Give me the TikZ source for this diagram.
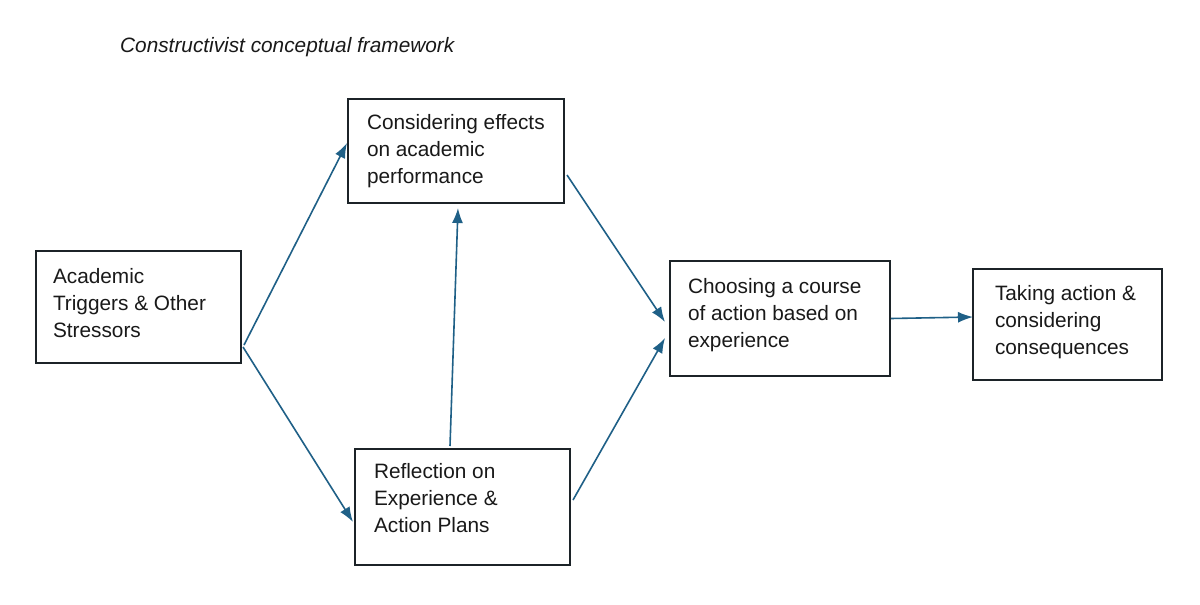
\documentclass[tikz,border=0pt]{standalone}
\usepackage{fontspec}
\setmainfont{Liberation Sans}
\usetikzlibrary{arrows.meta}
\definecolor{arrowblue}{HTML}{1F6087}
\definecolor{boxline}{HTML}{1C2328}
\begin{document}
\begin{tikzpicture}[x=1pt,y=-1pt,
  stagebox/.style={draw=boxline,line width=2.6pt,fill=white,inner sep=0pt,outer sep=0pt},
  stagetext/.style={anchor=base west,inner sep=0pt,outer sep=0pt,align=left,
    font=\fontsize{20.8}{27}\selectfont,text=black!90},
  flow/.style={draw=arrowblue,line width=1.6pt,-{Latex[length=15pt,width=11pt]}}]
\useasboundingbox[fill=white] (0,0) rectangle (1200,605);
\node[anchor=base west,inner sep=0pt,font=\fontsize{20.8}{27}\selectfont\itshape,text=black!90] (title) at (120,52) {Constructivist conceptual framework};
% boxes
\node[stagebox,minimum width=205pt,minimum height=112pt] (a) at (138.5,307) {};
\node[stagebox,minimum width=216pt,minimum height=104pt] (b) at (456,151) {};
\node[stagebox,minimum width=215pt,minimum height=116pt] (c) at (462.5,507) {};
\node[stagebox,minimum width=220pt,minimum height=115pt] (d) at (780,318.5) {};
\node[stagebox,minimum width=189pt,minimum height=111pt] (e) at (1067.5,324.5) {};
% texts (anchored at the baseline of the last line)
\node[stagetext] (at) at (53,337) {Academic\\Triggers \& Other\\Stressors};
\node[stagetext] (bt) at (367,183) {Considering effects\\on academic\\performance};
\node[stagetext] (ct) at (374,532) {Reflection on\\Experience \&\\Action Plans};
\node[stagetext] (dt) at (688,347) {Choosing a course\\of action based on\\experience};
\node[stagetext] (et) at (995,354) {Taking action \&\\considering\\consequences};
% connectors
\draw[flow] ([xshift=3pt,yshift=-38pt]a.east) -- ([xshift=-1pt,yshift=8pt]b.west);
\draw[flow] ([xshift=2pt,yshift=-40pt]a.east) -- ([xshift=-2pt,yshift=-15pt]c.west);
\draw[flow] ([xshift=-12.5pt,yshift=3pt]c.north) -- ([xshift=2pt,yshift=-5pt]b.south);
\draw[flow] ([xshift=3pt,yshift=-24pt]b.east) -- ([xshift=-5pt,yshift=-3.5pt]d.west);
\draw[flow] ([xshift=3pt,yshift=7pt]c.east) -- ([xshift=-5pt,yshift=-19.5pt]d.west);
\draw[flow] ([xshift=1pt]d.east) -- ([yshift=7.5pt]e.west);
\end{tikzpicture}
\end{document}
